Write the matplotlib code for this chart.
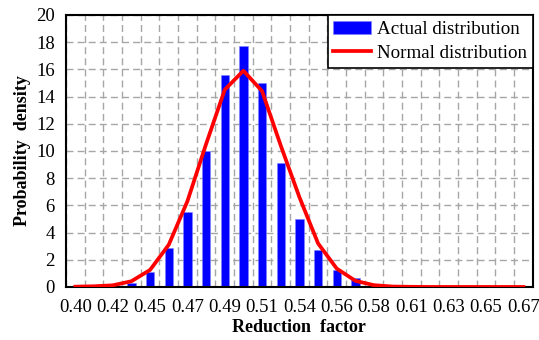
import numpy as np
import matplotlib
matplotlib.use("Agg")
import matplotlib.pyplot as plt

# Histogram bins of the reduction factor (25 bins, every other one labelled)
tick_labels = ["0.40", "0.42", "0.45", "0.47", "0.49", "0.51", "0.54",
               "0.56", "0.58", "0.61", "0.63", "0.65", "0.67"]
actual = [0.05, 0.0, 0.0, 0.3, 1.1, 2.85, 5.5, 10.0, 15.6, 17.7, 15.0, 9.1,
          5.0, 2.75, 1.25, 0.65, 0.15, 0.0, 0.0, 0.0, 0.0, 0.0, 0.0, 0.0, 0.05]
normal = [0.02, 0.05, 0.12, 0.42, 1.25, 3.1, 6.3, 10.5, 14.5, 15.9, 14.4, 10.4,
          6.6, 3.2, 1.35, 0.45, 0.13, 0.03, 0.01, 0.0, 0.0, 0.0, 0.0, 0.0, 0.0]

plt.rcParams["font.family"] = ["Liberation Serif", "DejaVu Serif"]

fig = plt.figure(figsize=(5.39, 3.40), dpi=100)
ax = fig.add_axes([0.1225, 0.156, 0.866, 0.8])

x = np.arange(len(actual))
bars = ax.bar(x, actual, width=0.45, color="#0000FF", edgecolor="#8080ff",
              linewidth=0.4, label="Actual distribution", zorder=2)
line, = ax.plot(x, normal, color="#FF0000", lw=2.7, label="Normal distribution",
                zorder=3, solid_joinstyle="round")

ax.set_xlim(-0.5, len(actual) - 0.5)
ax.set_ylim(0, 20)
ax.set_xticks(x[::2])
ax.set_xticklabels(tick_labels)
ax.set_xticks(np.arange(-0.5, len(actual), 1.0), minor=True)
ax.set_yticks(np.arange(0, 21, 2))
ax.tick_params(which="both", length=0, labelsize=13.5, pad=8)
ax.tick_params(axis="x", pad=9)

ax.grid(axis="y", which="major", color="#a6a6a6", ls=(0, (5, 3)), lw=1.0, zorder=0)
ax.grid(axis="x", which="minor", color="#a6a6a6", ls=(0, (5, 3)), lw=1.0, zorder=0)
ax.grid(axis="x", which="major", visible=False)
ax.set_axisbelow(True)

for sp in ax.spines.values():
    sp.set_linewidth(1.5)
    sp.set_color("black")

ax.set_xlabel("Reduction  factor", fontsize=13, fontweight="bold", labelpad=2)
ax.set_ylabel("Probability  density", fontsize=13, fontweight="bold", labelpad=4)

leg = ax.legend(handles=[bars, line], loc="upper right", bbox_to_anchor=(1.0, 1.0),
                fontsize=13.7, frameon=True, fancybox=False, edgecolor="black",
                framealpha=1, borderpad=0.3, handlelength=2.0,
                handletextpad=0.3, labelspacing=0.35, borderaxespad=0)
leg.get_frame().set_linewidth(1.2)

fig.savefig("out.png", dpi=100)
